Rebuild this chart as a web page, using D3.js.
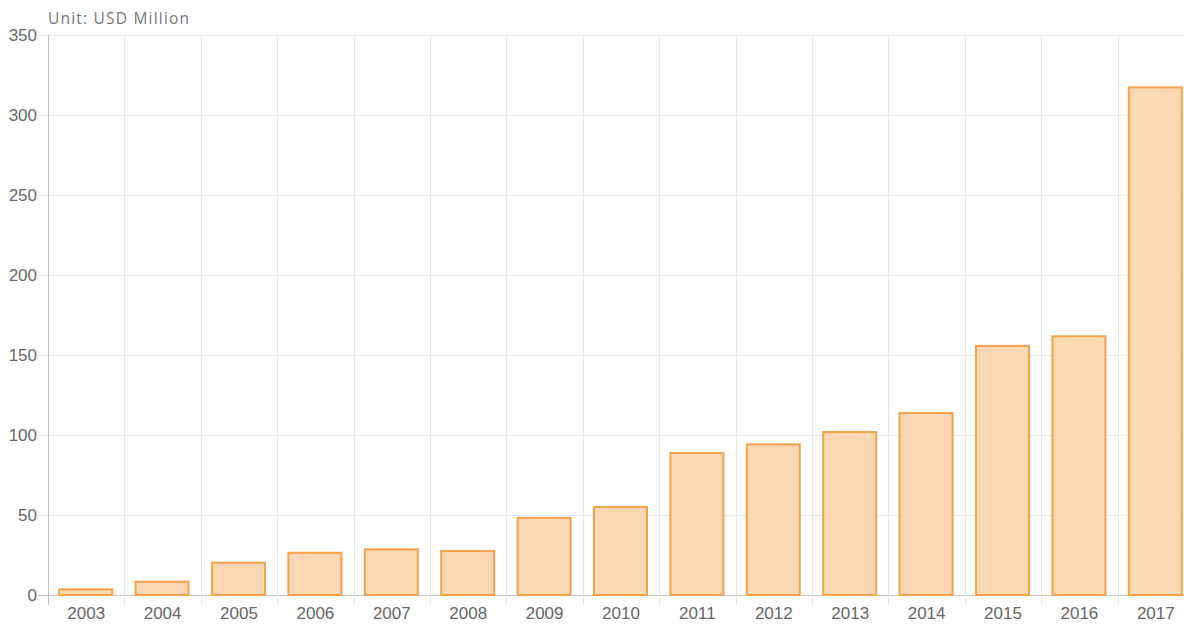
<!DOCTYPE html>
<html>
<head>
<meta charset="utf-8">
<script src="https://cdn.jsdelivr.net/npm/d3@7"></script>
<style>
  body{margin:0;background:#fff;}
  svg{display:block;}
</style>
</head>
<body>
<svg id="chart" width="1184" height="624"></svg>
<script>
'use strict';

var years=['2003','2004','2005','2006','2007','2008','2009','2010','2011','2012','2013','2014','2015','2016','2017'];
var values=[4.2,8.9,20.8,27,29.2,28.1,48.8,55.6,89.4,94.8,102.5,114.4,156.3,162.3,317.9];
var yTicks=[0,50,100,150,200,250,300,350];

var svg=d3.select('#chart')
  , plotLeft=48
  , plotRight=1194
  , plotTop=35
  , plotBottom=595;

var x=d3.scaleBand().domain(years).range([plotLeft,plotRight]).paddingInner(0.28).paddingOuter(0.14)
  , xg=d3.scaleBand().domain(years).range([plotLeft,plotRight])
  , y=d3.scaleLinear().domain([0,350]).range([plotBottom,plotTop]);

// grid
svg.append('g')
    .attr('class','grid-y')
    .selectAll('line').data(yTicks).enter().append('line')
    .attr('x1',plotLeft-10).attr('x2',plotRight)
    .attr('y1',function(d){return Math.round(y(d))+0.5;})
    .attr('y2',function(d){return Math.round(y(d))+0.5;})
    .attr('stroke',function(d){return d===0?'#c8c8c8':'#e8e8e8';})
    .attr('stroke-width',1);

svg.append('g')
    .attr('class','grid-x')
    .selectAll('line').data(years).enter().append('line')
    .attr('x1',function(d){return Math.round(xg(d)+xg.bandwidth())+0.5;})
    .attr('x2',function(d){return Math.round(xg(d)+xg.bandwidth())+0.5;})
    .attr('y1',plotTop).attr('y2',plotBottom+10)
    .attr('stroke','#e8e8e8');

// left axis line
svg.append('line')
    .attr('x1',plotLeft+0.5).attr('x2',plotLeft+0.5)
    .attr('y1',plotTop).attr('y2',plotBottom+10)
    .attr('stroke','#c0c0c0');

// bars
svg.append('g')
    .selectAll('rect').data(values).enter().append('rect')
    .attr('x',function(d,i){return x(years[i])+0.5;})
    .attr('y',function(d){return y(d)+1;})
    .attr('width',x.bandwidth()-2)
    .attr('height',function(d){return plotBottom-y(d)-1;})
    .attr('fill','#fbd8b1')
    .attr('stroke','#f6a24c')
    .attr('stroke-width',2);

// y labels
svg.append('g')
    .selectAll('text').data(yTicks).enter().append('text')
    .attr('x',37)
    .attr('y',function(d){return y(d)+6;})
    .attr('text-anchor','end')
    .attr('font-family','"Liberation Sans",Arial,sans-serif')
    .attr('font-size',17)
    .attr('fill','#666')
    .text(function(d){return d;});

// x labels
svg.append('g')
    .selectAll('text').data(years).enter().append('text')
    .attr('x',function(d){return xg(d)+xg.bandwidth()/2;})
    .attr('y',619)
    .attr('text-anchor','middle')
    .attr('font-family','"Liberation Sans",Arial,sans-serif')
    .attr('font-size',17)
    .attr('fill','#666')
    .text(function(d){return d;});

// unit
svg.append('text')
    .attr('x',48)
    .attr('y',24)
    .attr('font-family','"Open Sans",sans-serif')
    .attr('font-size',15.5)
    .attr('letter-spacing',1.2)
    .attr('fill','#777')
    .text('Unit: USD Million');
</script>
</body>
</html>
